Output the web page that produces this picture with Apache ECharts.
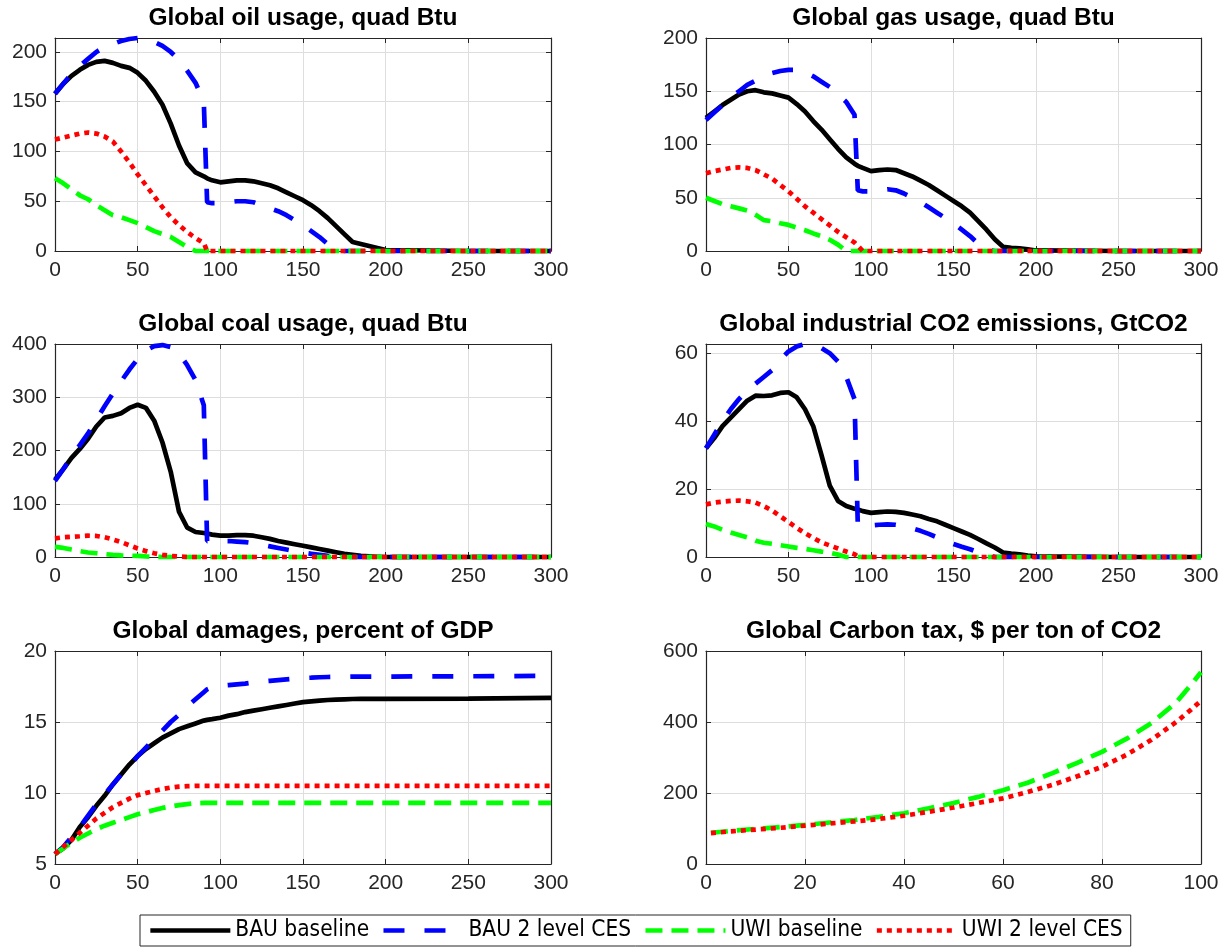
<!DOCTYPE html>
<html>
<head>
<meta charset="utf-8">
<script src="https://cdn.jsdelivr.net/npm/echarts@6/dist/echarts.min.js"></script>
<style>
html,body{margin:0;padding:0;background:#fff;}
#c{width:1223px;height:949px;}
</style>
</head>
<body>
<div id="c"></div>
<script>
// Shared time axis (years) for the first five panels
const X = [0,5,10,15,20,25,30,35,40,45,50,55,60,65,70,75,80,85,90,92,95,100,105,110,115,120,125,130,135,140,145,150,155,160,165,170,175,180,185,190,195,200,250,300];

// Oil usage, quad Btu
const oilBAU   = [158,168,176,182,187,190,191,189,186,184,179,171,160,147,128,106,88,79,75,73,71,69,70,71,71,70,68,66,63,59,55,51,46,40,33,25,17,9,7,5,3,1,0,0];
const oilBAU2  = [158,168,178,186,193,200,205,208,211,213,214,213,210,206,200,192,181,169,150,49,48,48,49,50,50,49,46,43,40,36,31,26,20,14,7,2,0,0,0,0,0,0,0,0];
const oilUWI   = [73,68,62,56,52,46,41,36,34,31,28,24,20,17,14,9,4,0,0,0,0,0,0,0,0,0,0,0,0,0,0,0,0,0,0,0,0,0,0,0,0,0,0,0];
const oilUWI2  = [112,114,116,118,119,118,115,110,100,89,77,66,55,44,34,26,19,13,8,0,0,0,0,0,0,0,0,0,0,0,0,0,0,0,0,0,0,0,0,0,0,0,0,0];

// Gas usage, quad Btu
const gasBAU   = [125,131,137,142,147,150,151,149,148,146,144,138,131,122,114,105,96,88,82,80,78,75,76,76.5,76,73,70,66,62,57,52,47,42,36,28,20,11,4,3,2.5,1.5,0.5,0,0];
const gasBAU2  = [123,130,137,144,150,156,160,164,167,169,170,170,168,164,159,154,147,140,128,57,56,56,57,58,57,54,50,46,41,36,31,26,20,14,7,1,0,0,0,0,0,0,0,0];
const gasUWI   = [50,47,44,42,40,38,34,29,28,26,24.5,22,19.5,16.5,14,10.5,6,0,0,0,0,0,0,0,0,0,0,0,0,0,0,0,0,0,0,0,0,0,0,0,0,0,0,0];
const gasUWI2  = [73,75,76.5,78,78.5,78,76,72,68,62,56,49,42,36,30,24,18,13,8,5,0,0,0,0,0,0,0,0,0,0,0,0,0,0,0,0,0,0,0,0,0,0,0,0];

// Coal usage, quad Btu
const coalBAU  = [145,165,186,203,222,245,262,265,270,280,286,280,256,215,160,85,55,47,45,44,42,40,40,41,41,40,37,34,30,27,24,21,18,15,12,9,6,4,2,1,0.5,0,0,0];
const coalBAU2 = [143,165,188,210,232,258,283,307,330,352,372,388,396,398,394,383,360,332,285,30,30,30,30,29,28,26,23,20,17,14,11,8,6,4,2,1,0,0,0,0,0,0,0,0];
const coalUWI  = [19,17,14,11,8.5,7,5.5,4,3,2.5,2,1,0.5,0,0,0,0,0,0,0,0,0,0,0,0,0,0,0,0,0,0,0,0,0,0,0,0,0,0,0,0,0,0,0];
const coalUWI2 = [35,37,38,39,40,39.5,37,33,28,22,16,11,7,4,2,1,0,0,0,0,0,0,0,0,0,0,0,0,0,0,0,0,0,0,0,0,0,0,0,0,0,0,0,0];

// Industrial CO2 emissions, GtCO2
const co2BAU   = [32,35,38.5,41,43.5,46,47.5,47.4,47.6,48.3,48.5,47,43.5,38.5,30,21,16.5,15,14.2,14,13.5,13,13.2,13.4,13.3,13,12.5,12,11.2,10.5,9.5,8.5,7.5,6.5,5.3,4,2.8,1.3,1,0.8,0.4,0.2,0,0];
const co2BAU2  = [32,36,40,43.5,46.5,49,51,53,55,58,60.5,62,62.7,62.5,61.5,60,57.5,53,46.5,9.5,9.3,9.3,9.5,9.6,9.5,9,8.4,7.7,6.8,5.8,4.8,3.8,3,2.3,1.4,0.7,0,0,0,0,0,0,0,0];
const co2UWI   = [9.7,9,8,7.2,6.5,5.8,4.8,4.2,3.9,3.5,3.1,2.7,2.4,2,1.6,1.3,0.7,0,0,0,0,0,0,0,0,0,0,0,0,0,0,0,0,0,0,0,0,0,0,0,0,0,0,0];
const co2UWI2  = [15.5,16,16.3,16.5,16.6,16.4,16,15,13.7,12,10.3,8.6,7,5.6,4.3,3.4,2.5,1.6,0.8,0.2,0,0,0,0,0,0,0,0,0,0,0,0,0,0,0,0,0,0,0,0,0,0,0,0];

// Damages, percent of GDP
const dmgBAU   = [5.7,6.1,6.7,7.6,8.3,9.1,9.8,10.6,11.3,12.0,12.6,13.1,13.5,13.9,14.2,14.5,14.7,14.9,15.1,15.15,15.2,15.3,15.45,15.55,15.7,15.8,15.9,16.0,16.1,16.2,16.3,16.4,16.45,16.5,16.55,16.58,16.6,16.62,16.63,16.63,16.63,16.63,16.65,16.7];
const dmgBAU2  = [5.7,6.2,6.9,7.6,8.4,9.2,9.9,10.6,11.3,11.9,12.6,13.2,13.8,14.4,15.0,15.5,16.1,16.6,17.1,17.3,17.45,17.55,17.6,17.65,17.7,17.78,17.85,17.9,17.95,18.0,18.05,18.1,18.12,18.15,18.17,18.18,18.19,18.2,18.2,18.2,18.2,18.2,18.22,18.25];
const dmgUWI   = [5.7,6.1,6.5,6.85,7.15,7.45,7.7,7.9,8.1,8.3,8.5,8.65,8.8,8.95,9.05,9.15,9.22,9.28,9.3,9.3,9.3,9.3,9.3,9.3,9.3,9.3,9.3,9.3,9.3,9.3,9.3,9.3,9.3,9.3,9.3,9.3,9.3,9.3,9.3,9.3,9.3,9.3,9.3,9.3];
const dmgUWI2  = [5.7,6.2,6.7,7.2,7.7,8.2,8.6,9.0,9.3,9.6,9.85,10.0,10.15,10.28,10.38,10.45,10.48,10.5,10.5,10.5,10.5,10.5,10.5,10.5,10.5,10.5,10.5,10.5,10.5,10.5,10.5,10.5,10.5,10.5,10.5,10.5,10.5,10.5,10.5,10.5,10.5,10.5,10.5,10.5];

// Carbon tax, $ per ton of CO2
const XT       = [1,5,10,15,20,25,30,35,40,45,50,55,60,65,70,75,80,85,90,95,98,100];
const taxUWI   = [88,93,99,104,110,117,124,133,143,157,172,189,208,229,256,285,316,353,397,455,505,540];
const taxUWI2  = [87,92,97,102,108,114,120,127,136,147,159,172,185,203,223,247,274,308,350,400,435,460];

const titles = ['Global oil usage, quad Btu','Global gas usage, quad Btu','Global coal usage, quad Btu',
  'Global industrial CO2 emissions, GtCO2','Global damages, percent of GDP','Global Carbon tax, $ per ton of CO2'];
const names = ['BAU baseline','BAU 2 level CES','UWI baseline','UWI 2 level CES'];

// Layout / styles
const INK = '#262626';
const FONT = '"Liberation Sans", Arial, Helvetica, sans-serif';
const NARROW = '"Liberation Sans Narrow", "Arial Narrow", "DejaVu Sans Condensed", "Liberation Sans", sans-serif';
const LW = 4.7;
const gridsPos = [
  {left:55,  top:38,  width:496, height:213},
  {left:706, top:38,  width:495, height:213},
  {left:55,  top:344, width:496, height:213},
  {left:706, top:344, width:495, height:213},
  {left:55,  top:651, width:496, height:213},
  {left:706, top:651, width:495, height:213}
];
const xCfg = [[0,300,50],[0,300,50],[0,300,50],[0,300,50],[0,300,50],[0,100,20]];
const yCfg = [[0,214,50],[0,200,50],[0,400,100],[0,62.7,20],[5,20,5],[0,600,200]];
const styles = {
  'BAU baseline':    {color:'#000000', type:'solid'},
  'BAU 2 level CES': {color:'#0000ff', type:[21,20]},
  'UWI baseline':    {color:'#00ff00', type:[17,9]},
  'UWI 2 level CES': {color:'#ff0000', type:[5,5]}
};

const grid=[], xAxis=[], yAxis=[], title=[], series=[];
gridsPos.forEach((g,i)=>{
  grid.push(Object.assign({containLabel:false}, g));
  title.push({text:titles[i], left:g.left+g.width/2, top:g.top-32, textAlign:'center', padding:0,
    textStyle:{fontFamily:FONT, fontWeight:'bold', fontSize:24.5, color:'#000'}});
  const ax = {type:'value', gridIndex:i, min:xCfg[i][0], max:xCfg[i][1], interval:xCfg[i][2]};
  xAxis.push(Object.assign({}, ax, {position:'bottom',
    axisLine:{show:true,onZero:false,lineStyle:{color:INK,width:1.2}},
    axisTick:{show:true,inside:true,length:5,lineStyle:{color:INK}},
    axisLabel:{show:true,color:INK,fontSize:21,fontFamily:FONT,margin:9,showMaxLabel:true},
    splitLine:{show:true,lineStyle:{color:'#dedede',width:1}}}));
  xAxis.push(Object.assign({}, ax, {position:'top',
    axisLine:{show:true,onZero:false,lineStyle:{color:INK,width:1.2}},
    axisTick:{show:true,inside:true,length:5,lineStyle:{color:INK}},
    axisLabel:{show:false}, splitLine:{show:false}}));
  const ay = {type:'value', gridIndex:i, min:yCfg[i][0], max:yCfg[i][1], interval:yCfg[i][2]};
  yAxis.push(Object.assign({}, ay, {position:'left',
    axisLine:{show:true,onZero:false,lineStyle:{color:INK,width:1.2}},
    axisTick:{show:true,inside:true,length:5,lineStyle:{color:INK}},
    axisLabel:{show:true,color:INK,fontSize:21,fontFamily:FONT,margin:8,showMaxLabel:(yCfg[i][1]%yCfg[i][2]===0)},
    splitLine:{show:true,lineStyle:{color:'#dedede',width:1}}}));
  yAxis.push(Object.assign({}, ay, {position:'right',
    axisLine:{show:true,onZero:false,lineStyle:{color:INK,width:1.2}},
    axisTick:{show:true,inside:true,length:5,lineStyle:{color:INK}},
    axisLabel:{show:false}, splitLine:{show:false}}));
});

function addSeries(name, gi, xs, ys){
  const st = styles[name];
  series.push({name:name, type:'line', xAxisIndex:2*gi, yAxisIndex:2*gi,
    data: xs.map((x,k)=>[x, ys[k]]), showSymbol:false, symbol:'none', clip:false,
    lineStyle:{color:st.color, width:LW, type:st.type}, itemStyle:{color:st.color}, z:3});
}
const panelData = [
  [oilBAU,oilBAU2,oilUWI,oilUWI2],
  [gasBAU,gasBAU2,gasUWI,gasUWI2],
  [coalBAU,coalBAU2,coalUWI,coalUWI2],
  [co2BAU,co2BAU2,co2UWI,co2UWI2],
  [dmgBAU,dmgBAU2,dmgUWI,dmgUWI2]
];
panelData.forEach((arrs,gi)=>arrs.forEach((ys,k)=>addSeries(names[k], gi, X, ys)));
addSeries('UWI baseline', 5, XT, taxUWI);
addSeries('UWI 2 level CES', 5, XT, taxUWI2);

const chart = echarts.init(document.getElementById('c'), null, {renderer:'canvas'});
chart.setOption({
  animation:false,
  backgroundColor:'#ffffff',
  title:title, grid:grid, xAxis:xAxis, yAxis:yAxis, series:series,
  legend:{data:names, left:140, top:915, selectedMode:false,
    itemWidth:80, itemHeight:14, itemGap:12,
    itemStyle:{opacity:0, borderWidth:0},
    lineStyle:{width:LW},
    padding:[4,8,4,8], borderColor:INK, borderWidth:1, backgroundColor:'#fff',
    textStyle:{fontFamily:NARROW, fontSize:22.5, color:'#000'}}
});
</script>
</body>
</html>
